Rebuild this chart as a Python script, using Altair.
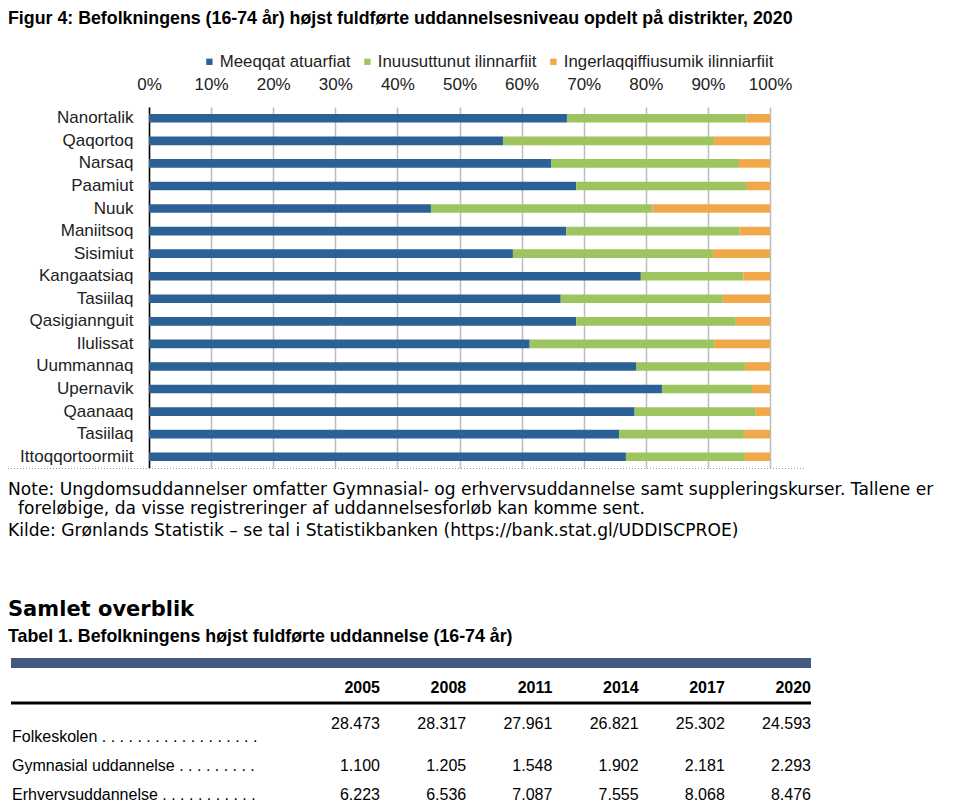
import altair as alt
import pandas as pd

# ---------------- data ----------------
districts = ["Nanortalik", "Qaqortoq", "Narsaq", "Paamiut", "Nuuk", "Maniitsoq",
             "Sisimiut", "Kangaatsiaq", "Tasiilaq", "Qasigiannguit", "Ilulissat",
             "Uummannaq", "Upernavik", "Qaanaaq", "Tasiilaq", "Ittoqqortoormiit"]
meeqqat = [67.3, 57.0, 64.8, 68.8, 45.4, 67.2, 58.6, 79.2, 66.3, 68.8, 61.3,
           78.5, 82.6, 78.2, 75.7, 76.8]
inuusuttunut = [28.9, 34.0, 30.2, 27.5, 35.7, 27.9, 32.2, 16.5, 26.1, 25.7, 29.7,
                17.5, 14.5, 19.5, 20.1, 19.2]
ingerlaqqiffiusumik = [3.8, 9.0, 5.0, 3.7, 18.9, 4.9, 9.2, 4.3, 7.6, 5.5, 9.0,
                       4.0, 2.9, 2.3, 4.2, 4.0]
series = ["Meeqqat atuarfiat", "Inuusuttunut ilinnarfiit", "Ingerlaqqiffiusumik ilinniarfiit"]
colors = ["#2B6195", "#9DC45F", "#F0A848"]

years = ["2005", "2008", "2011", "2014", "2017", "2020"]
row_labels = ["Folkeskolen", "Gymnasial uddannelse", "Erhvervsuddannelse"]
folkeskolen = [28473, 28317, 27961, 26821, 25302, 24593]
gymnasial = [1100, 1205, 1548, 1902, 2181, 2293]
erhverv = [6223, 6536, 7087, 7555, 8068, 8476]

title_text = "Figur 4: Befolkningens (16-74 år) højst fuldførte uddannelsesniveau opdelt på distrikter, 2020"
note_1 = "Note: Ungdomsuddannelser omfatter Gymnasial- og erhvervsuddannelse samt suppleringskurser. Tallene er"
note_2 = "foreløbige, da visse registreringer af uddannelsesforløb kan komme sent."
source = "Kilde: Grønlands Statistik – se tal i Statistikbanken (https://bank.stat.gl/UDDISCPROE)"
section = "Samlet overblik"
table_title = "Tabel 1. Befolkningens højst fuldførte uddannelse (16-74 år)"

# ---------------- tables ----------------
keys = []
for i, d in enumerate(districts):
    keys.append(d if districts.index(d) == i else d + "\u200b")

rows = []
for i, k in enumerate(keys):
    for j, vals in enumerate([meeqqat, inuusuttunut, ingerlaqqiffiusumik]):
        rows.append({"key": k, "series": series[j], "value": vals[i], "k": j})
df = pd.DataFrame(rows)

dots = {"Folkeskolen": 18, "Gymnasial uddannelse": 9, "Erhvervsuddannelse": 11}
trows = []
for r, vals in zip(row_labels, [folkeskolen, gymnasial, erhverv]):
    for y, v in zip(years, vals):
        trows.append({"row": r, "year": y, "txt": f"{v:,}".replace(",", ".")})
tdf = pd.DataFrame(trows)
ldf = pd.DataFrame({"row": row_labels, "label": [r + " ." * dots[r] for r in row_labels]})
ydf = pd.DataFrame({"year": years})

SANS = "Liberation Sans, Arial, sans-serif"
VERD = "DejaVu Sans, Verdana, sans-serif"

W, H = 621, 361

bars = alt.Chart(df).mark_bar().encode(
    x=alt.X("value:Q", stack="zero", scale=alt.Scale(domain=[0, 100], nice=False),
            axis=alt.Axis(orient="top", values=list(range(0, 101, 10)),
                          labelExpr="datum.value + '%'", title=None, domain=False,
                          ticks=False, tickSize=0, labelPadding=14, grid=True,
                          gridColor="#BDBDBD", gridWidth=1.5, labelFont=SANS,
                          labelFontSize=17, labelColor="#222", labelFlush=False)),
    y=alt.Y("key:N", sort=keys, scale=alt.Scale(paddingInner=0.62, paddingOuter=0.31),
            axis=alt.Axis(title=None, ticks=False, tickSize=0, domainColor="#000",
                          domainWidth=1.5, labelPadding=16, labelFont=SANS,
                          labelFontSize=17, labelColor="#222", grid=False)),
    color=alt.Color("series:N", scale=alt.Scale(domain=series, range=colors),
                    legend=alt.Legend(orient="none", legendX=52, legendY=-54,
                                      direction="horizontal", title=None,
                                      symbolType="square", symbolSize=40,
                                      symbolStrokeWidth=0, labelFontSize=16.8,
                                      labelFont=SANS, labelColor="#222",
                                      labelLimit=400, columnPadding=8,
                                      labelOffset=2)),
    order=alt.Order("k:Q"),
)


def txt(text, x, y, size, font, weight="normal", color="#000"):
    return alt.Chart(pd.DataFrame({"t": [text]})).mark_text(
        align="left", baseline="middle", font=font, fontSize=size,
        fontWeight=weight, color=color).encode(
        x=alt.value(x), y=alt.value(y), text="t:N")


one = pd.DataFrame({"a": [0]})
baseline_rule = alt.Chart(one).mark_rule(color="#9A9A9A", strokeDash=[1, 2], strokeWidth=1).encode(
    x=alt.value(-141), x2=alt.value(656), y=alt.value(H + 0.5))
blue_band = alt.Chart(one).mark_rect(color="#45587F").encode(
    x=alt.value(-138), x2=alt.value(662), y=alt.value(551), y2=alt.value(561))
head_rule = alt.Chart(one).mark_rule(color="#000", strokeWidth=3).encode(
    x=alt.value(-138), x2=alt.value(662), y=alt.value(596))

xs = alt.Scale(type="point", domain=years, range=[231, 662], padding=0)
ys = alt.Scale(type="point", domain=row_labels, range=[630, 688], padding=0)

year_head = alt.Chart(ydf).mark_text(align="right", baseline="middle", font=SANS,
                                     fontSize=16, fontWeight="bold", color="#000").encode(
    x=alt.X("year:O", scale=xs, axis=None), y=alt.value(581), text="year:N")
cells_top = alt.Chart(tdf[tdf["row"] == row_labels[0]]).mark_text(
    align="right", baseline="middle", font=SANS, fontSize=16, color="#000", dy=-13).encode(
    x=alt.X("year:O", scale=xs, axis=None), y=alt.Y("row:N", scale=ys, axis=None), text="txt:N")
cells_rest = alt.Chart(tdf[tdf["row"] != row_labels[0]]).mark_text(
    align="right", baseline="middle", font=SANS, fontSize=16, color="#000").encode(
    x=alt.X("year:O", scale=xs, axis=None), y=alt.Y("row:N", scale=ys, axis=None), text="txt:N")
row_text = alt.Chart(ldf).mark_text(align="left", baseline="middle", font=SANS,
                                    fontSize=16, color="#000").encode(
    x=alt.value(-137), y=alt.Y("row:N", scale=ys, axis=None), text="label:N")

chart = alt.layer(
    bars,
    baseline_rule,
    txt(title_text, -141, -88, 17.8, SANS, "bold"),
    txt(note_1, -141, 383, 17.1, VERD),
    txt(note_2, -131, 402, 17.1, VERD),
    txt(source, -141, 424, 17.1, VERD),
    txt(section, -141, 503, 21, VERD, "bold"),
    txt(table_title, -141, 530, 17.8, SANS, "bold"),
    blue_band,
    head_rule,
    year_head,
    cells_top,
    cells_rest,
    row_text,
).resolve_scale(x="independent", y="independent").properties(
    width=W, height=H,
    autosize=alt.AutoSizeParams(type="none"),
    padding={"left": 141, "top": 99, "right": 182, "bottom": 336},
    background="white",
).configure_view(stroke=None)

chart.save("out.html", embed_options={"renderer": "svg", "actions": False})
